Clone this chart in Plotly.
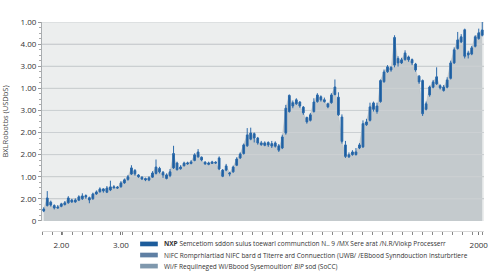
import plotly.graph_objects as go

# ---- data ----
opens = [0.45, 0.70, 0.85, 0.70, 0.58, 0.66, 0.74, 0.82, 0.95, 0.86,
         0.94, 1.00, 1.15, 1.05, 1.00, 1.22, 1.32, 1.45, 1.30, 1.40,
         1.50, 1.53, 1.55, 1.72, 1.88, 2.12, 2.28, 2.08, 1.98, 1.92,
         1.85, 1.98, 2.15, 2.38, 2.20, 1.92, 2.05, 2.40, 2.62, 2.36,
         2.50, 2.58, 2.60, 2.74, 2.90, 2.88, 2.66, 2.56, 2.60, 2.66,
         2.85, 2.30, 2.30, 2.12, 2.22, 2.52, 2.85, 3.05, 3.40, 3.70,
         3.95, 3.75, 3.45, 3.42, 3.55, 3.50, 3.38, 3.40, 3.30, 3.98,
         4.95, 5.35, 5.30, 5.38, 5.15, 4.68, 4.55, 4.95, 5.40, 5.62,
         5.40, 5.30, 5.35, 5.72, 5.60, 4.70, 3.44, 2.90, 3.00, 3.00,
         3.30, 3.35, 4.35, 4.55, 5.05, 5.20, 5.40, 6.30, 6.75, 6.95,
         7.05, 7.35, 7.15, 7.30, 7.42, 7.30, 7.10, 6.55, 6.35, 5.05,
         5.70, 6.05, 6.20, 6.12, 5.90, 6.05, 6.45, 7.15, 7.80, 8.10,
         8.65, 7.60, 7.55, 7.90, 8.25, 8.40]
highs = [0.62, 1.35, 0.92, 0.75, 0.72, 0.82, 0.90, 1.12, 1.00, 1.02,
         1.16, 1.25, 1.20, 1.10, 1.28, 1.38, 1.52, 1.48, 1.58, 1.82,
         1.62, 1.58, 1.80, 1.92, 2.08, 2.52, 2.35, 2.12, 2.02, 1.96,
         2.02, 2.25, 2.78, 2.45, 2.26, 2.15, 2.35, 3.40, 2.68, 2.52,
         2.68, 2.68, 2.75, 3.06, 3.25, 2.92, 2.70, 2.68, 2.72, 2.70,
         2.92, 2.35, 2.58, 2.22, 2.50, 2.88, 3.10, 3.50, 4.20, 4.22,
         4.00, 3.80, 3.62, 3.60, 3.60, 3.62, 3.60, 3.48, 3.90, 5.25,
         5.72, 5.45, 5.55, 5.42, 5.20, 4.72, 4.88, 5.55, 5.78, 5.68,
         5.58, 5.35, 5.78, 6.40, 5.82, 4.82, 3.62, 3.10, 3.20, 3.30,
         3.52, 4.55, 4.62, 5.35, 5.40, 5.35, 6.40, 6.85, 7.05, 7.00,
         8.40, 7.45, 7.38, 7.72, 7.48, 7.35, 7.15, 6.60, 6.40, 5.40,
         6.12, 6.38, 6.95, 6.18, 6.15, 6.50, 7.25, 7.85, 8.55, 8.45,
         8.70, 7.70, 7.92, 8.40, 8.70, 9.00]
lows = [0.40, 0.65, 0.65, 0.52, 0.55, 0.62, 0.70, 0.78, 0.82, 0.82,
        0.90, 0.95, 1.00, 0.80, 0.96, 1.18, 1.28, 1.28, 1.26, 1.35,
        1.46, 1.45, 1.50, 1.68, 1.82, 2.08, 2.05, 1.95, 1.85, 1.80,
        1.80, 1.95, 2.10, 2.15, 1.95, 1.88, 1.98, 2.35, 2.28, 2.32,
        2.46, 2.54, 2.56, 2.70, 2.86, 2.70, 2.54, 2.52, 2.58, 2.58,
        2.30, 1.98, 2.25, 2.02, 2.18, 2.48, 2.80, 3.00, 3.35, 3.65,
        3.55, 3.45, 3.40, 3.38, 3.35, 3.30, 3.32, 3.12, 3.25, 3.90,
        4.90, 5.10, 5.25, 5.12, 4.80, 4.40, 4.50, 4.90, 5.35, 5.40,
        5.35, 5.10, 5.30, 5.68, 4.75, 3.50, 2.85, 2.85, 2.95, 2.96,
        3.25, 3.30, 4.30, 4.50, 4.95, 4.85, 5.35, 6.25, 6.70, 6.75,
        6.95, 6.98, 7.10, 7.25, 7.20, 7.05, 6.75, 6.20, 4.75, 5.00,
        5.62, 6.00, 6.15, 5.95, 5.85, 6.00, 6.40, 7.10, 7.75, 8.05,
        7.35, 7.35, 7.50, 7.85, 8.20, 8.35]
closes = [0.54, 1.04, 0.72, 0.59, 0.63, 0.77, 0.82, 1.04, 0.86, 0.95,
          1.09, 1.13, 1.09, 0.95, 1.22, 1.31, 1.45, 1.36, 1.49, 1.54,
          1.54, 1.49, 1.72, 1.86, 2.00, 2.40, 2.13, 2.00, 1.90, 1.86,
          1.95, 2.17, 2.44, 2.22, 2.08, 2.08, 2.22, 3.05, 2.32, 2.44,
          2.62, 2.62, 2.67, 2.99, 3.12, 2.76, 2.58, 2.62, 2.67, 2.62,
          2.35, 2.02, 2.49, 2.17, 2.44, 2.80, 3.03, 3.44, 3.89, 3.98,
          3.75, 3.53, 3.53, 3.53, 3.44, 3.39, 3.53, 3.20, 3.80, 5.10,
          5.68, 5.20, 5.48, 5.20, 4.89, 4.48, 4.80, 5.38, 5.70, 5.48,
          5.48, 5.16, 5.70, 6.06, 4.80, 3.60, 2.92, 2.99, 3.12, 3.12,
          3.44, 4.40, 4.48, 5.16, 5.34, 4.95, 6.35, 6.74, 6.97, 6.83,
          8.30, 7.15, 7.29, 7.60, 7.29, 7.15, 6.83, 6.29, 4.85, 5.30,
          6.06, 6.29, 6.52, 6.02, 6.06, 6.38, 7.15, 7.74, 8.19, 8.33,
          7.45, 7.51, 7.83, 8.33, 8.51, 8.64]
periods = list(range(len(closes)))

y_tick_values = [0, 1, 2, 3, 4, 5, 6, 7, 8, 9]
y_tick_labels = ["0", "2.00", "1.00", "2.00", "2.00", "3.00", "1.00", "3.00", "4.00", "1.00"]
x_tick_values = [5, 22, 124]
x_tick_labels = ["2.00", "3.00", "2000"]

legend_names = [
    "<b>NXP</b> Semcetiom sddon sulus toewarl communction N.. 9 /MX Sere arat /N.R/Viokp Processerr",
    "NIFC Romprhlartiad NIFC bard d Titerre ard Connuection (UWB/ /EBbood Synndouction Insturbrtiere",
    "Wi/F Requilneged Wi/Bbood Sysemoultion' <i>BIP</i> sod (SoCC)",
]
legend_colors = ["#1d5c9b", "#5f7fa3", "#7f98ad"]

FONT = "Open Sans"
X_RANGE = [-0.5, len(closes) - 0.5]
Y_RANGE = [0, 9]

fig = go.Figure()

# shaded area under the price
fig.add_trace(go.Scatter(
    x=periods, y=closes, mode="lines", fill="tozeroy",
    line=dict(color="#b9c0c4", width=0.6), fillcolor="#c4cacd",
    showlegend=False, hoverinfo="skip"))

# horizontal grid drawn over the shaded area (as in the reference)
grid_x, grid_y = [], []
for v in y_tick_values[1:]:
    grid_x += [X_RANGE[0], X_RANGE[1], None]
    grid_y += [v, v, None]
fig.add_trace(go.Scatter(x=grid_x, y=grid_y, mode="lines",
                         line=dict(color="#cdd1d3", width=1),
                         showlegend=False, hoverinfo="skip"))

# candlesticks on an overlaid subplot so they sit above the area
fig.add_trace(go.Candlestick(
    x=periods, open=opens, high=highs, low=lows, close=closes,
    xaxis="x2", yaxis="y2",
    increasing=dict(line=dict(color="#2b6aab", width=1), fillcolor="#1a5a9a"),
    decreasing=dict(line=dict(color="#2b6aab", width=1), fillcolor="#1a5a9a"),
    whiskerwidth=0, showlegend=False))

# legend (paper-anchored swatches + text to match compact row spacing)
legend_rows_y = [-0.042, -0.094, -0.146]
for name, col, ly in zip(legend_names, legend_colors, legend_rows_y):
    fig.add_shape(type="rect", xref="paper", yref="paper",
                  x0=0.222, x1=0.262, y0=ly - 0.011, y1=ly + 0.011,
                  fillcolor=col, line=dict(width=0))
    fig.add_annotation(xref="paper", yref="paper", x=0.271, y=ly,
                       xanchor="left", yanchor="middle", showarrow=False,
                       text=name, font=dict(size=6.5, color="#333333", family=FONT))

fig.update_layout(
    width=500, height=272,
    margin=dict(l=42, r=16, t=22, b=37, autoexpand=False),
    paper_bgcolor="white", plot_bgcolor="#eceeee",
    font=dict(family=FONT, size=9, color="#333333"),
    showlegend=False,
    xaxis=dict(
        range=X_RANGE, rangeslider=dict(visible=False),
        anchor="free", position=0.02,
        tickmode="array", tickvals=x_tick_values, ticktext=x_tick_labels,
        ticks="outside", ticklen=3, tickcolor="#777777",
        ticklabelstandoff=4,
        showgrid=False, zeroline=False,
        showline=True, linecolor="#d8d8d8", linewidth=1,
        minor=dict(dtick=2.85, tick0=2.4, ticks="outside", ticklen=3, tickcolor="#888888"),
        tickfont=dict(size=8, color="#333333"),
    ),
    yaxis=dict(
        domain=[0.066, 1], range=Y_RANGE,
        tickmode="array", tickvals=y_tick_values, ticktext=y_tick_labels,
        showgrid=True, gridcolor="#c9cccd", gridwidth=1,
        zeroline=False, showline=True, linecolor="#a9adb0", linewidth=1,
        ticks="outside", ticklen=3, tickcolor="#999999",
        minor=dict(dtick=0.25, ticks="outside", ticklen=2, tickcolor="#aaaaaa", showgrid=False),
        tickfont=dict(size=8, color="#333333"),
        title=dict(text="BXLRobotbs (USDbS)", font=dict(size=7.5, color="#444444"), standoff=12),
    ),
    xaxis2=dict(overlaying="x", anchor="y2", range=X_RANGE, visible=False,
                rangeslider=dict(visible=False)),
    yaxis2=dict(overlaying="y", anchor="x2", range=Y_RANGE, visible=False),
)

fig.write_html("out.html")
